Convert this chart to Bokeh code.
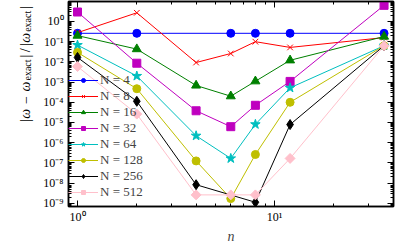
import math
from bokeh.plotting import figure
from bokeh.layouts import row
from bokeh.models import (Range1d, FixedTicker, CustomJSTickFormatter, LogAxis,
                          Legend, LegendItem, Label)
from bokeh.embed import file_html
from bokeh.resources import INLINE

# ---- data ----
n_all = [1, 2, 4, 6, 8, 12, 36]
n_N4 = [1, 2, 6, 8, 12, 36]
n_N256 = [1, 2, 4, 8, 12, 36]

err_N4 = [0.26, 0.26, 0.26, 0.26, 0.26, 0.26]
err_N8 = [0.28, 2.7, 0.0093, 0.026, 0.10, 0.052, 0.16]
err_N16 = [0.20, 0.043, 6.8e-4, 2.0e-4, 1.1e-3, 0.012, 0.18]
err_N32 = [2.95, 8.6e-3, 3.8e-5, 6.2e-6, 7.1e-5, 1.08e-3, 6.3]
err_N64 = [0.068, 2.0e-3, 2.2e-6, 1.66e-7, 8.1e-6, 5.2e-4, 0.063]
err_N128 = [0.0295, 4.7e-4, 1.25e-7, 1.7e-9, 2.6e-7, 1.0e-4, 0.063]
err_N256 = [0.0166, 1.12e-4, 8.3e-9, 1.12e-9, 7.9e-6, 0.063]
err_N512 = [5.9e-3, 2.6e-5, 2.6e-9, 2.6e-9, 2.6e-9, 1.66e-7, 0.063]

series_labels = ["N = 4", "N = 8", "N = 16", "N = 32", "N = 64", "N = 128", "N = 256", "N = 512"]
x_major = [1, 10]
y_major_exp = list(range(-10, 2))

SERIF = "Liberation Serif"
W, H = 399, 246
LW = 40  # width of the strip holding the y-axis title

series = [
    (n_N4, err_N4, "#0000ff", "circle", 8, 0),
    (n_all, err_N8, "#ff0000", "x", 8, 0),
    (n_all, err_N16, "#008000", "triangle", 9, 0),
    (n_all, err_N32, "#bf00bf", "square", 8, 0),
    (n_all, err_N64, "#00bfbf", "star", 10, 0),
    (n_all, err_N128, "#bfbf00", "circle", 8, 0),
    (n_N256, err_N256, "#000000", "diamond", 10, 0),
    (n_all, err_N512, "#ffc0cb", "square", 7, math.pi / 4),
]

p = figure(width=W - LW, height=H, x_axis_type="log", y_axis_type="log",
           x_range=Range1d(0.9, 40.2), y_range=Range1d(10 ** -9.16, 10 ** 0.99),
           output_backend="svg", toolbar_location=None,
           min_border_left=68 - LW, min_border_right=6, min_border_top=1, min_border_bottom=30)
p.grid.visible = False
p.outline_line_color = "black"
p.outline_line_width = 1.5
p.background_fill_color = "white"
p.border_fill_color = "white"

x_minor = [m * 10 ** k for k in range(0, 2) for m in range(2, 10)]
y_minor = [m * 10.0 ** k for k in range(-10, 1) for m in range(2, 10)]
xt = FixedTicker(ticks=x_major, minor_ticks=x_minor)
yt = FixedTicker(ticks=[10.0 ** e for e in y_major_exp], minor_ticks=y_minor)

fmt = CustomJSTickFormatter(code="""
const e = Math.round(Math.log10(tick));
const sup = {"-": "\u207b", "0": "\u2070", "1": "\u00b9", "2": "\u00b2", "3": "\u00b3",
             "4": "\u2074", "5": "\u2075", "6": "\u2076", "7": "\u2077", "8": "\u2078", "9": "\u2079"};
return "10" + String(e).split("").map(c => sup[c]).join("");
""")
blank = CustomJSTickFormatter(code="return '';")


def style_axis(ax, labels=True):
    ax.major_tick_in = 6
    ax.major_tick_out = 0
    ax.minor_tick_in = 3
    ax.minor_tick_out = 0
    ax.major_tick_line_color = "black"
    ax.minor_tick_line_color = "black"
    ax.axis_line_color = "black"
    ax.axis_line_width = 1.5
    ax.major_label_text_font = SERIF
    ax.major_label_text_color = "black"
    if labels:
        ax.major_label_text_font_size = "12px"
    else:
        ax.major_label_text_font_size = "0px"
        ax.major_label_standoff = 0


p.xaxis.ticker = xt
p.yaxis.ticker = yt
p.xaxis.formatter = fmt
p.yaxis.formatter = fmt
style_axis(p.xaxis[0])
style_axis(p.yaxis[0])
p.xaxis.major_label_standoff = 3
p.yaxis.major_label_standoff = 5
p.xaxis.axis_label = "n"
p.xaxis.axis_label_text_font = SERIF
p.xaxis.axis_label_text_font_style = "italic"
p.xaxis.axis_label_text_font_size = "14px"
p.xaxis.axis_label_standoff = 2

top = LogAxis(ticker=FixedTicker(ticks=x_major, minor_ticks=x_minor), formatter=blank)
style_axis(top, labels=False)
right = LogAxis(ticker=FixedTicker(ticks=[10.0 ** e for e in y_major_exp], minor_ticks=y_minor), formatter=blank)
style_axis(right, labels=False)
p.add_layout(top, "above")
p.add_layout(right, "right")

items = []
for (xs, ys, color, marker, size, ang), lab in zip(series, series_labels):
    lr = p.line(xs, ys, line_color=color, line_width=1)
    sr = p.scatter(xs, ys, marker=marker, size=size, angle=ang, fill_color=color,
                   line_color=color, line_width=1)
    items.append(LegendItem(label=lab, renderers=[lr, sr]))

legend = Legend(items=items, location=(0, 6), padding=0, margin=0, spacing=-6,
                glyph_width=30, glyph_height=10, label_height=10, label_standoff=2,
                label_text_font=SERIF, label_text_font_size="13px",
                border_line_alpha=0, background_fill_alpha=0)
p.add_layout(legend)

# ---- strip on the left that carries the y-axis title (pieces keep subscripts as real text) ----
t = figure(width=LW, height=H, x_range=Range1d(0, 1), y_range=Range1d(0, 1),
           output_backend="svg", toolbar_location=None,
           x_axis_location=None, y_axis_location=None, min_border=0)
t.grid.visible = False
t.outline_line_color = None
t.background_fill_color = "white"
t.border_fill_color = "white"

# (text, distance of its centre from the top of the canvas, size, style, baseline shift)
pieces = [
    ("|", 159.9, 14, "normal", 0), ("\u03c9", 153.3, 14, "italic", 0), ("\u2212", 139.6, 14, "normal", 0),
    ("\u03c9", 126.0, 14, "italic", 0), ("exact", 109.5, 10, "normal", 2),
    ("|", 95.5, 14, "normal", 0), ("/", 89.7, 14, "normal", 0), ("|", 84.0, 14, "normal", 0),
    ("\u03c9", 77.3, 14, "italic", 0), ("exact", 60.8, 10, "normal", 2), ("|", 46.8, 14, "normal", 0),
]
for txt, top_px, fs, style, dx in pieces:
    t.add_layout(Label(x=25 + dx, y=H - top_px, x_units="screen", y_units="screen", text=txt,
                       angle=math.pi / 2, text_align="center", text_baseline="alphabetic",
                       text_font=SERIF, text_font_size=f"{fs}px", text_font_style=style,
                       text_color="black"))

layout = row(t, p, spacing=0)
open("out.html", "w").write(file_html(layout, INLINE))
